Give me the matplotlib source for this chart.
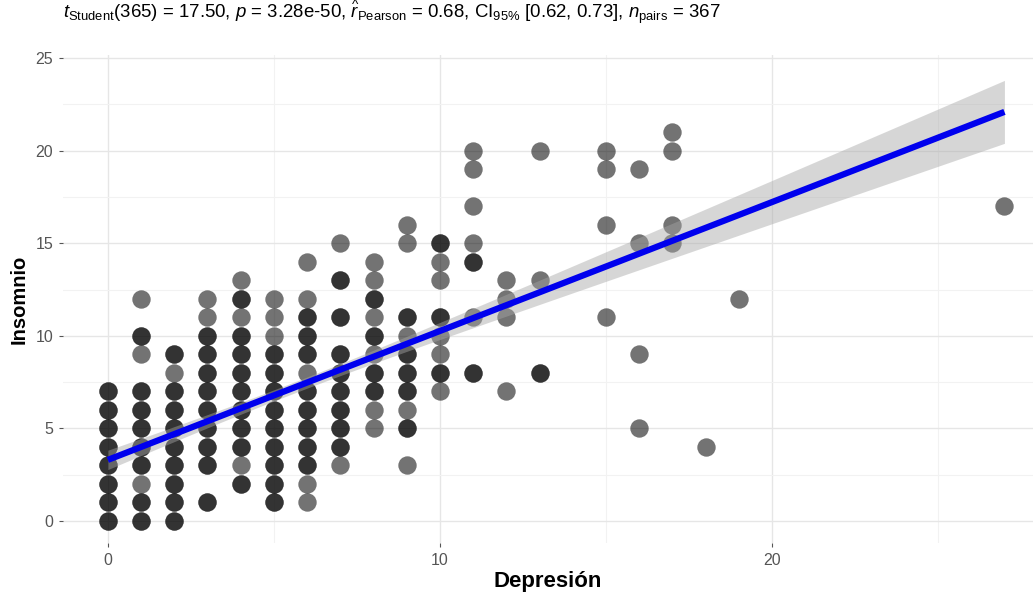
"""
    Scatter of Insomnio vs Depresión with a linear fit and its 95% band,
    ggscatterstats style.
"""

import numpy as np
import matplotlib
matplotlib.use("Agg")
import matplotlib.pyplot as plt
from matplotlib.ticker import MultipleLocator

plt.rcParams['font.family'] = ['Liberation Sans', 'DejaVu Sans']
plt.rcParams['mathtext.fontset'] = 'custom'
plt.rcParams['mathtext.rm'] = 'Liberation Sans'
plt.rcParams['mathtext.it'] = 'Liberation Sans:italic'
plt.rcParams['mathtext.bf'] = 'Liberation Sans:bold'

# depresion score per column, insomnio scores found there, and how many
# observations overlap at each point (light dot = 1, dark dot = several)
depresion_cols = [0, 1, 2, 3, 4, 5, 6, 7, 8, 9, 10, 11, 12, 13, 15, 16, 17, 18, 19, 27]
insomnio_cols = [
    [0, 1, 2, 3, 4, 5, 6, 7],
    [0, 1, 2, 3, 4, 5, 6, 7, 9, 10, 12],
    [0, 1, 2, 3, 4, 5, 6, 7, 8, 9],
    [1, 3, 4, 5, 6, 7, 8, 9, 10, 11, 12],
    [2, 3, 4, 5, 6, 7, 8, 9, 10, 11, 12, 13],
    [1, 2, 3, 4, 5, 6, 7, 8, 9, 10, 11, 12],
    [1, 2, 3, 4, 5, 6, 7, 8, 9, 10, 11, 12, 14],
    [3, 4, 5, 6, 7, 8, 9, 11, 13, 15],
    [5, 6, 7, 8, 9, 10, 11, 12, 13, 14],
    [3, 5, 6, 7, 8, 9, 10, 11, 15, 16],
    [7, 8, 9, 10, 11, 13, 14, 15],
    [8, 11, 14, 15, 17, 19, 20],
    [7, 11, 12, 13],
    [8, 13, 20],
    [11, 16, 19, 20],
    [5, 9, 15, 19],
    [15, 16, 20, 21],
    [4],
    [12],
    [17],
]
count_cols = [
    [2, 2, 2, 2, 2, 2, 2, 2],
    [2, 2, 1, 2, 2, 2, 2, 2, 1, 2, 1],
    [2, 2, 2, 2, 2, 2, 2, 2, 1, 2],
    [2, 2, 2, 2, 2, 2, 2, 2, 2, 1, 1],
    [2, 1, 2, 2, 2, 2, 2, 2, 2, 1, 2, 1],
    [2, 2, 2, 2, 2, 2, 2, 2, 2, 1, 1, 1],
    [1, 1, 2, 2, 2, 2, 2, 1, 2, 2, 2, 1, 1],
    [1, 2, 2, 2, 2, 2, 2, 2, 2, 1],
    [1, 1, 2, 2, 1, 2, 1, 2, 1, 1],
    [1, 2, 1, 2, 2, 2, 1, 2, 1, 1],
    [1, 2, 1, 1, 2, 1, 1, 2],
    [2, 1, 2, 1, 1, 1, 1],
    [1, 1, 1, 1],
    [2, 1, 1],
    [1, 1, 1, 1],
    [1, 1, 1, 1],
    [1, 1, 1, 1],
    [1],
    [1],
    [1],
]

# fitted line and 95% band
fit_intercept = 3.3
fit_slope = 0.696
band_center_x = 5.5
band_min_half = 0.3
band_end_half = 1.7

subtitle = (r"$\it{t}_{\mathrm{Student}}$(365) = 17.50, $\it{p}$ = 3.28e-50, "
            r"$\widehat{\it{r}}_{\mathrm{Pearson}}$ = 0.68, "
            r"CI$_{\mathrm{95\%}}$ [0.62, 0.73], $\it{n}_{\mathrm{pairs}}$ = 367")


def main():
    xs, ys = [], []
    for x, col_y, col_n in zip(depresion_cols, insomnio_cols, count_cols):
        for y, n in zip(col_y, col_n):
            xs += [x] * n
            ys += [y] * n
    xs = np.array(xs)
    ys = np.array(ys)

    fig = plt.figure(figsize=(10.33, 5.94), dpi=100)
    ax = fig.add_axes([0.061, 0.0855, 0.939, 0.8215])

    xmax = max(depresion_cols)
    line_x = np.linspace(0, xmax, 200)
    line_y = fit_intercept + fit_slope * line_x
    k = (band_end_half ** 2 - band_min_half ** 2) / (xmax - band_center_x) ** 2
    half = np.sqrt(band_min_half ** 2 + k * (line_x - band_center_x) ** 2)

    ax.scatter(xs, ys, s=175, color='black', alpha=0.55, linewidths=0, zorder=2)
    ax.fill_between(line_x, line_y - half, line_y + half, color='#a6a6a6',
                    alpha=0.45, linewidth=0, zorder=3)
    ax.plot(line_x, line_y, color='#0000ee', linewidth=4.5, zorder=4,
            solid_capstyle='butt')

    ax.set_xlim(-1.35, 27.86)
    ax.set_ylim(-1.2, 25.15)
    ax.xaxis.set_major_locator(MultipleLocator(10))
    ax.xaxis.set_minor_locator(MultipleLocator(5))
    ax.yaxis.set_major_locator(MultipleLocator(5))
    ax.yaxis.set_minor_locator(MultipleLocator(2.5))
    ax.grid(which='major', color='#e6e6e6', linewidth=1.0, zorder=0)
    ax.grid(which='minor', color='#f2f2f2', linewidth=0.8, zorder=0)
    ax.set_axisbelow(True)
    for s in ax.spines.values():
        s.set_visible(False)
    ax.tick_params(which='major', length=3, width=0.8, color='#555555',
                   labelcolor='#555555', labelsize=11.5, pad=4)
    ax.tick_params(which='minor', length=0)

    ax.set_xlabel("Depresión", fontsize=16, fontweight='bold', labelpad=2)
    ax.set_ylabel("Insomnio", fontsize=14.5, fontweight='bold', labelpad=5)
    fig.text(0.061, 0.978, subtitle, fontsize=13.4, va='center', ha='left')

    fig.savefig("out.png", dpi=100, facecolor='white')


if __name__ == '__main__':
    main()
